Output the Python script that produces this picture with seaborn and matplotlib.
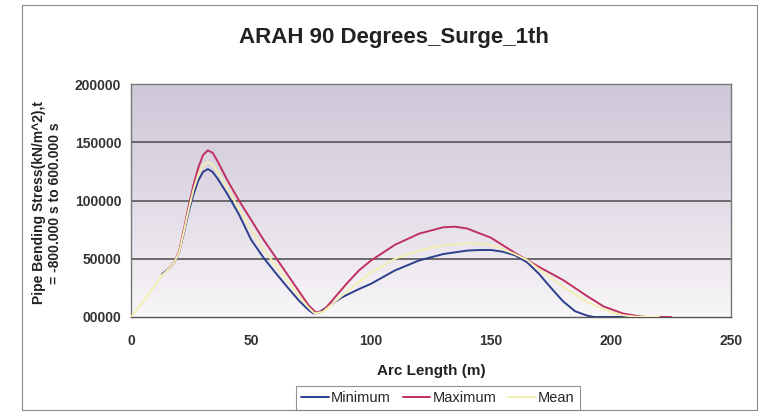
import numpy as np
import pandas as pd
import matplotlib
matplotlib.use("Agg")
import matplotlib.pyplot as plt
import seaborn as sns
from matplotlib.patches import Rectangle
from matplotlib.lines import Line2D
from matplotlib.colors import LinearSegmentedColormap

# ---- data ----
min_x = [13, 16, 18, 20, 22, 24, 26, 28, 30, 32, 34, 36, 38, 40, 45, 50, 55, 60, 65, 70, 74, 76, 78,
         82, 88, 95, 100, 110, 120, 130, 140, 145, 150, 155, 160, 165, 170, 175, 180, 185, 190, 193, 200, 210, 220]
min_y = [37000, 42000, 47000, 55000, 72000, 90000, 105000, 117000, 124500, 127000, 124500, 119000, 112500,
         106000, 88000, 66500, 51500, 38500, 26000, 14000, 6000, 3000, 3500,
         9000, 17000, 24000, 28500, 40000, 48500, 54000, 57000, 57500, 57500, 56000, 53000, 47000, 37000,
         25000, 13500, 5000, 1200, 0, 0, 0, 0]

max_x = [16, 18, 20, 22, 24, 26, 28, 30, 32, 34, 36, 38, 40, 45, 50, 55, 60, 65, 70, 74, 77, 80, 85, 90,
         95, 100, 110, 120, 130, 135, 140, 150, 160, 165, 170, 180, 190, 197, 205, 212, 215, 225]
max_y = [42000, 47000, 56000, 75000, 95000, 113000, 128000, 139000, 143000, 141000, 134000, 126000, 118000,
         100000, 83500, 67000, 52000, 37000, 22000, 10000, 4000, 5000, 17000, 29000,
         40000, 48500, 62000, 71500, 77000, 77500, 76000, 68000, 55000, 49000, 43000, 31800, 18000, 9000,
         3000, 500, 0, 0]

mean_x = [0, 5, 10, 13, 16, 18, 20, 22, 24, 26, 28, 30, 32, 34, 36, 40, 45, 50, 55, 60, 65, 70, 74, 76.5,
          80, 90, 100, 110, 120, 130, 140, 150, 160, 165, 170, 180, 190, 200, 205, 210, 220]
mean_y = [0, 13000, 27000, 36000, 42000, 47000, 55000, 73000, 92000, 109000, 122000, 130000, 133000, 131000,
          125000, 111000, 93000, 75000, 59000, 45000, 31500, 18000, 8000, 3000,
          4500, 22000, 38000, 50000, 57000, 61500, 63500, 62000, 54000, 49000, 41000, 26000, 13000, 4000,
          1500, 300, 0]

series_names = ["Minimum", "Maximum", "Mean"]
x_ticks = [0, 50, 100, 150, 200, 250]
y_ticks = [0, 50000, 100000, 150000, 200000]
y_tick_labels = ["00000", "50000", "100000", "150000", "200000"]

df = pd.concat([
    pd.DataFrame({"x": min_x, "y": min_y, "series": "Minimum"}),
    pd.DataFrame({"x": max_x, "y": max_y, "series": "Maximum"}),
    pd.DataFrame({"x": mean_x, "y": mean_y, "series": "Mean"}),
], ignore_index=True)

palette = {"Minimum": "#2b3f8c", "Maximum": "#c03060", "Mean": "#f3efb2"}

sns.set_style("white")
plt.rcParams['font.family'] = ['Liberation Sans', 'DejaVu Sans']

fig = plt.figure(figsize=(7.6, 4.17), dpi=100)
ax = fig.add_axes([131/760, 1 - 317/417, 600/760, 233/417])

# gradient background
grad = np.linspace(0, 1, 256).reshape(-1, 1)
cmap = LinearSegmentedColormap.from_list("bg", ["#cfc8d9", "#dad3e0", "#e9e4ec", "#f8f6f8"])
ax.imshow(grad, extent=[0, 1, 0, 1], transform=ax.transAxes, cmap=cmap, aspect="auto", zorder=0)

sns.lineplot(data=df, x="x", y="y", hue="series", hue_order=series_names, palette=palette,
             sort=False, estimator=None, linewidth=1.4, ax=ax, legend=False, zorder=3)

ax.set_xlim(0, 250)
ax.set_ylim(0, 200000)
ax.set_xticks(x_ticks)
ax.set_xticklabels([str(v) for v in x_ticks])
ax.set_yticks(y_ticks)
ax.set_yticklabels(y_tick_labels)
for yv in y_ticks[1:-1]:
    ax.axhline(yv, color="#555555", linewidth=1.2, zorder=2)
ax.tick_params(axis="both", labelsize=10, colors="#333333", length=3, width=0.8, direction="out")
ax.tick_params(axis="y", pad=4)
ax.tick_params(axis="x", pad=12, length=0)
for lbl in ax.get_xticklabels() + ax.get_yticklabels():
    lbl.set_fontweight("bold")
for s in ax.spines.values():
    s.set_color("#777777")
    s.set_linewidth(1.0)
ax.spines["bottom"].set_color("#555555")

ax.set_xlabel("Arc Length (m)", fontsize=11, fontweight="bold", color="#222222", labelpad=12)
ax.set_ylabel("Pipe Bending Stress(kN/m^2),t\n= -800.000 s to 600.000 s", fontsize=10,
              fontweight="bold", color="#222222", linespacing=1.15)
ax.yaxis.set_label_coords(-0.115, 0.49)

fig.text(394/760, 1 - 38/417, "ARAH 90 Degrees_Surge_1th", ha="center", va="center",
         fontsize=16, fontweight="bold", color="#222222")

# outer frame of chart
fig.patches.append(Rectangle((22/760, 1 - 410/417), 735/760, 405/417, transform=fig.transFigure,
                             fill=False, edgecolor="#888888", linewidth=0.8))

handles = [Line2D([0], [0], color=palette[n], linewidth=1.4) for n in series_names]
leg = fig.legend(handles, series_names, loc="center", bbox_to_anchor=(438/760, 1 - 398/417), ncol=3,
                 frameon=True, fontsize=10.5, handlelength=1.9, handletextpad=0.15, columnspacing=0.8,
                 borderpad=0.35, fancybox=False, edgecolor="#777777")
leg.get_frame().set_linewidth(0.8)

fig.savefig("out.png", dpi=100)
